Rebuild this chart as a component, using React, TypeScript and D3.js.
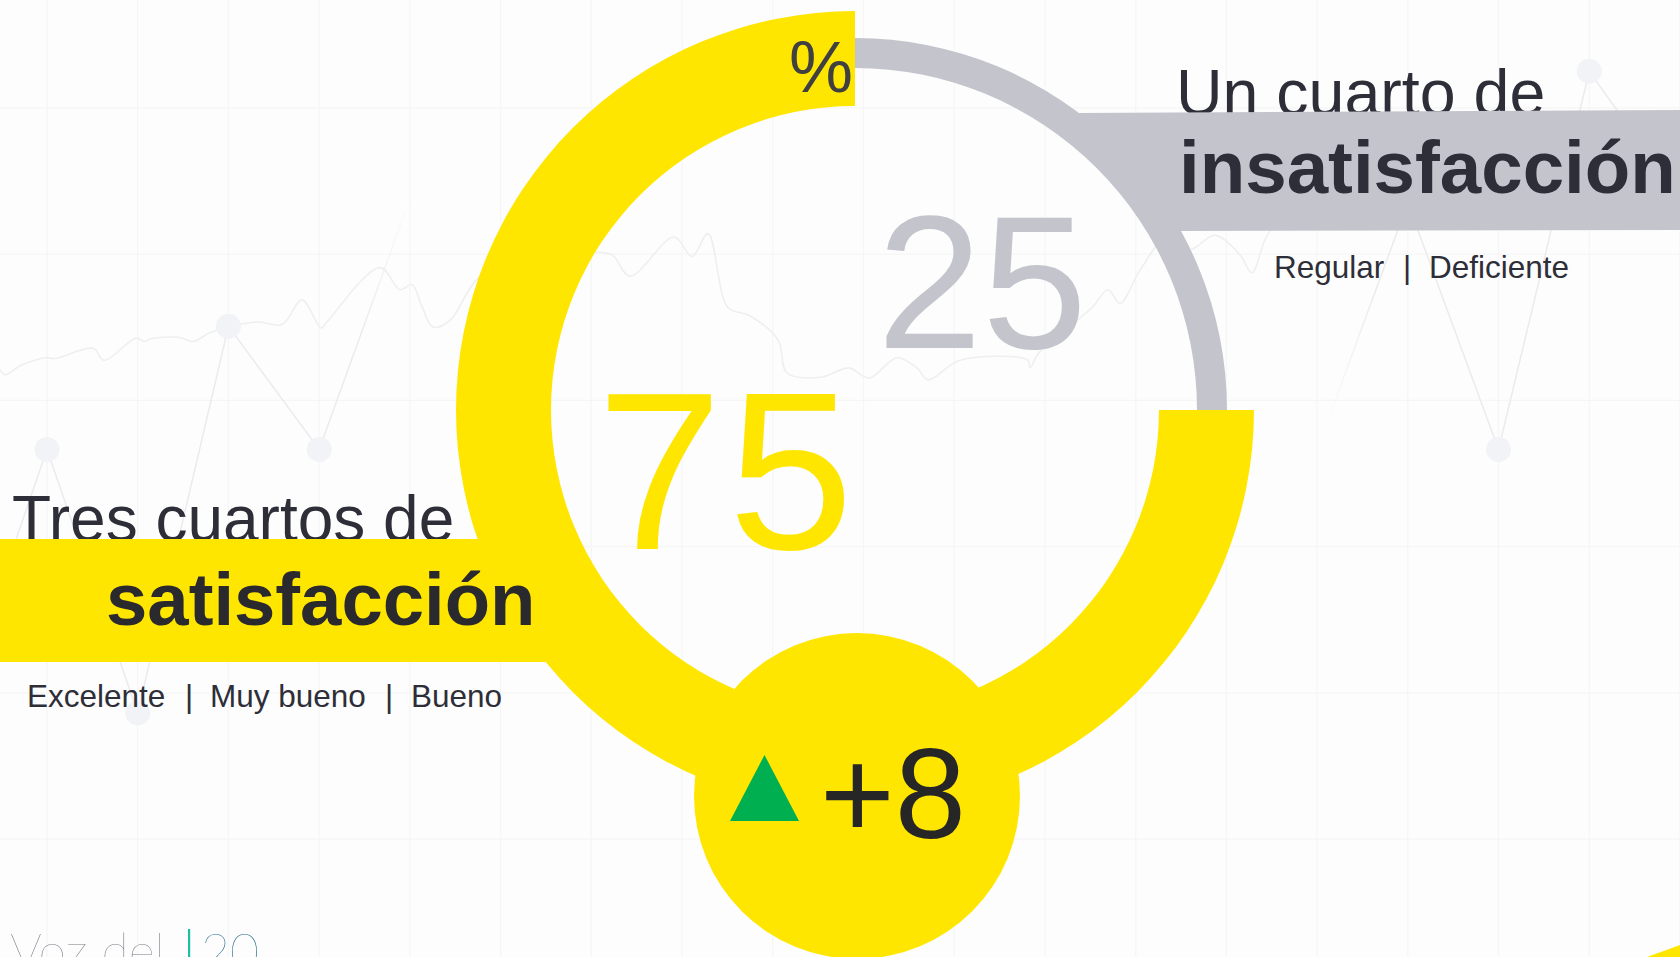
import React from 'react';
import * as d3 from 'd3';

const W = 1680;
const H = 957;

// main figures
const SEGMENTS = ['satisfacción', 'insatisfacción'];
const SHARES = [75, 25];
const CHANGE = 8;
const GOOD_LABELS = ['Excelente', 'Muy bueno', 'Bueno'];
const BAD_LABELS = ['Regular', 'Deficiente'];

// faint chart in the background (decoration)
const ZIGZAG_LEFT_COLS = [-1, 0, 1, 2, 3, 4];
const ZIGZAG_LEFT = [22, 53, 22, 67.5, 53, 82.5];
const ZIGZAG_RIGHT_COLS = [14, 15, 16, 17, 18];
const ZIGZAG_RIGHT = [53, 82, 53, 97.5, 82.5];
const ZIGZAG_MARKERS = [0, 1, 2, 3, 16, 17];
const WIGGLE_T = [0, 0.3, 1.25, 2.74, 3.27, 5.54, 6.19, 8.1, 8.63, 8.93, 10.65, 11.49, 12.56, 15.3, 16.79, 17.98, 19.11, 19.46, 22.62, 23.81, 24.52, 25.12, 25.77, 26.79, 28.57, 32.14, 35.48, 36.43, 37.5, 40.12, 41.19, 42.14, 43.33, 44.58, 46.31, 46.85, 48.87, 50.54, 51.73, 53.39, 54.58, 55.24, 57.14, 61.19, 61.31, 61.85, 65, 65.95, 66.67, 67.86, 69.35, 70.83, 72.32, 73.81, 74.52, 75.3, 76.19];
const WIGGLE_V = [62.4, 61.8, 62.9, 63.8, 63.7, 64.9, 63.5, 66.1, 65.7, 66, 66.2, 65.7, 66.8, 68, 67.7, 70.6, 67.3, 68, 74.4, 71.8, 72.4, 69.8, 67.4, 68.2, 73.3, 75.3, 76.2, 75.9, 73.4, 78, 75.7, 78.4, 69.7, 68.8, 65.9, 62, 61.5, 62.6, 61.4, 63.8, 62.6, 61.2, 63.5, 63.5, 62.6, 64.4, 69.7, 71.8, 70.2, 74.1, 77.7, 76.5, 78.2, 75.9, 73.8, 77.7, 80.6];

const YELLOW = '#FFE600';
const GREY = '#C4C4CD';
const DARK = '#2E2E38';
const FONT = '"Liberation Sans", Arial, sans-serif';
const FAINT = '#ebebef';

const CX = 855;
const CY = 410;
const RADII = [
  { inner: 304, outer: 399 },
  { inner: 342, outer: 372 },
];
const COLORS = [YELLOW, GREY];

const App = () => {
  const colX = d3.scaleLinear().domain([0, 18]).range([47, 1680]);
  const rowY = d3.scaleLinear().domain([0, 5]).range([108, 839]);
  const bgY = d3.scaleLinear().domain([0, 100]).range([900, 50]);
  const tX = d3.scaleLinear().domain([0, 100]).range([0, W]);

  const pie = d3.pie<number>().sort(null)
    .startAngle(Math.PI / 2)
    .endAngle(Math.PI / 2 + 2 * Math.PI);
  const slices = pie(SHARES);

  const arcPath = (i: number) => d3.arc<any>()
    .innerRadius(RADII[i].inner)
    .outerRadius(RADII[i].outer)(slices[i]) as string;

  const zigLine = d3.line<number>();
  const leftZig = zigLine(ZIGZAG_LEFT.map((v, i) => [colX(ZIGZAG_LEFT_COLS[i]), bgY(v)]) as any);
  const rightZig = zigLine(ZIGZAG_RIGHT.map((v, i) => [colX(ZIGZAG_RIGHT_COLS[i]), bgY(v)]) as any);
  const allZig = new Map<number, number>();
  ZIGZAG_LEFT_COLS.forEach((c, i) => allZig.set(c, ZIGZAG_LEFT[i]));
  ZIGZAG_RIGHT_COLS.forEach((c, i) => allZig.set(c, ZIGZAG_RIGHT[i]));

  const wiggle = d3.line<number>()
    .x((_, i) => tX(WIGGLE_T[i]))
    .y(v => bgY(v))
    .curve(d3.curveCatmullRom.alpha(0.5))(WIGGLE_V);

  // callout bands that grow out of the rings
  const onCircle = (r: number, y: number, side: number) => CX + side * Math.sqrt(r * r - (y - CY) * (y - CY));
  const gTop = 113, gBot = 231;
  const greyBand = [
    [onCircle(RADII[1].outer - 1, gTop, 1), gTop],
    [W, gTop - 3],
    [W, gBot - 1],
    [onCircle(RADII[1].outer - 1, gBot, 1), gBot],
  ];
  const yTop = 539, yBot = 662;
  const yellowBand = [
    [0, yTop],
    [onCircle(RADII[0].outer - 2, yTop, -1), yTop],
    [onCircle(RADII[0].outer - 2, yBot, -1), yBot],
    [0, yBot],
  ];
  const poly = (pts: number[][]) => 'M' + pts.map(p => p.join(',')).join('L') + 'Z';

  // change badge
  const badge = { cx: 857, cy: 796, r: 163 };
  const tri = { cx: 764.5, base: 821, w: 69, h: 66 };
  const triPath = poly([
    [tri.cx, tri.base - tri.h],
    [tri.cx + tri.w / 2, tri.base],
    [tri.cx - tri.w / 2, tri.base],
  ]);

  const goodX = [27, 185, 210, 385, 411];
  const goodItems = [GOOD_LABELS[0], '|', GOOD_LABELS[1], '|', GOOD_LABELS[2]];
  const badX = [1274, 1403, 1429];
  const badItems = [BAD_LABELS[0], '|', BAD_LABELS[1]];

  return (
    <svg width={W} height={H} style={{ position: 'fixed', left: 0, top: 0, display: 'block' }}>
      <defs>
        <linearGradient id="fadeL" gradientUnits="userSpaceOnUse" x1={360} y1={0} x2={412} y2={0}>
          <stop offset="0" stopColor={FAINT} stopOpacity={1} />
          <stop offset="1" stopColor={FAINT} stopOpacity={0} />
        </linearGradient>
        <linearGradient id="fadeR" gradientUnits="userSpaceOnUse" x1={1325} y1={0} x2={1375} y2={0}>
          <stop offset="0" stopColor={FAINT} stopOpacity={0} />
          <stop offset="1" stopColor={FAINT} stopOpacity={1} />
        </linearGradient>
      </defs>
      <rect width={W} height={H} fill="#fdfdfd" />

      {d3.range(19).map(c => (
        <line key={'c' + c} x1={colX(c)} x2={colX(c)} y1={0} y2={H} stroke="#f6f6f7" strokeWidth={1.3} />
      ))}
      {d3.range(6).map(r => (
        <line key={'r' + r} x1={0} x2={W} y1={rowY(r)} y2={rowY(r)} stroke="#f6f6f7" strokeWidth={1.3} />
      ))}

      <path d={wiggle as string} fill="none" stroke="#efeff1" strokeWidth={1.6} />
      <path d={leftZig as string} fill="none" stroke="url(#fadeL)" strokeWidth={1.5} />
      <path d={rightZig as string} fill="none" stroke="url(#fadeR)" strokeWidth={1.5} />
      {ZIGZAG_MARKERS.map(c => (
        <circle key={'m' + c} cx={colX(c)} cy={bgY(allZig.get(c) as number)} r={12.5} fill="#f1f3f6" />
      ))}

      <g fontFamily={FONT} fill={DARK}>
        <text x={12} y={541} fontSize={64}>Tres cuartos de</text>
        <text x={1176} y={115} fontSize={64.5}>Un cuarto de</text>
      </g>

      <path d={poly(yellowBand)} fill={YELLOW} />
      <path d={poly(greyBand)} fill={GREY} />

      <g transform={`translate(${CX},${CY})`}>
        {slices.map((s, i) => (
          <path key={SEGMENTS[i]} d={arcPath(i)} fill={COLORS[i]} />
        ))}
      </g>

      <circle cx={badge.cx} cy={badge.cy} r={badge.r} fill={YELLOW} />

      <g fontFamily={FONT}>
        <text x={853} y={92} fontSize={72} textAnchor="end" fill="#404040">%</text>
        <text x={597} y={549} fontSize={225} letterSpacing={6} fill={YELLOW}>{SHARES[0]}</text>
        <text x={877} y={348} fontSize={189} fill={GREY}>{SHARES[1]}</text>

        <text x={106} y={625} fontSize={74.3} fontWeight="bold" fill="#2a2a2e">{SEGMENTS[0]}</text>
        <text x={1179} y={193} fontSize={74.5} fontWeight="bold" fill={DARK}>{SEGMENTS[1]}</text>

        {goodItems.map((t, i) => (
          <text key={'g' + i} x={goodX[i]} y={707} fontSize={31.5} fill={DARK}>{t}</text>
        ))}
        {badItems.map((t, i) => (
          <text key={'b' + i} x={badX[i]} y={278} fontSize={31.5} fill={DARK}>{t}</text>
        ))}

        <path d={triPath} fill="#00B050" />
        <text x={820} y={838} fontSize={128} fill="#262626">{`+${CHANGE}`}</text>
      </g>

      <g fontFamily="Lato, sans-serif" fontWeight={100} fontSize={50}>
        <text x={10} y={969} fill="#7a7a86">Voz del</text>
        <rect x={188} y={929} width={2.2} height={40} fill="#1fbfa5" />
        <text x={201} y={969} fill="#1d6688">20</text>
      </g>

      <path d={poly([[1647, H], [W, 945], [W, H]])} fill={YELLOW} />
    </svg>
  );
};

export default App;
